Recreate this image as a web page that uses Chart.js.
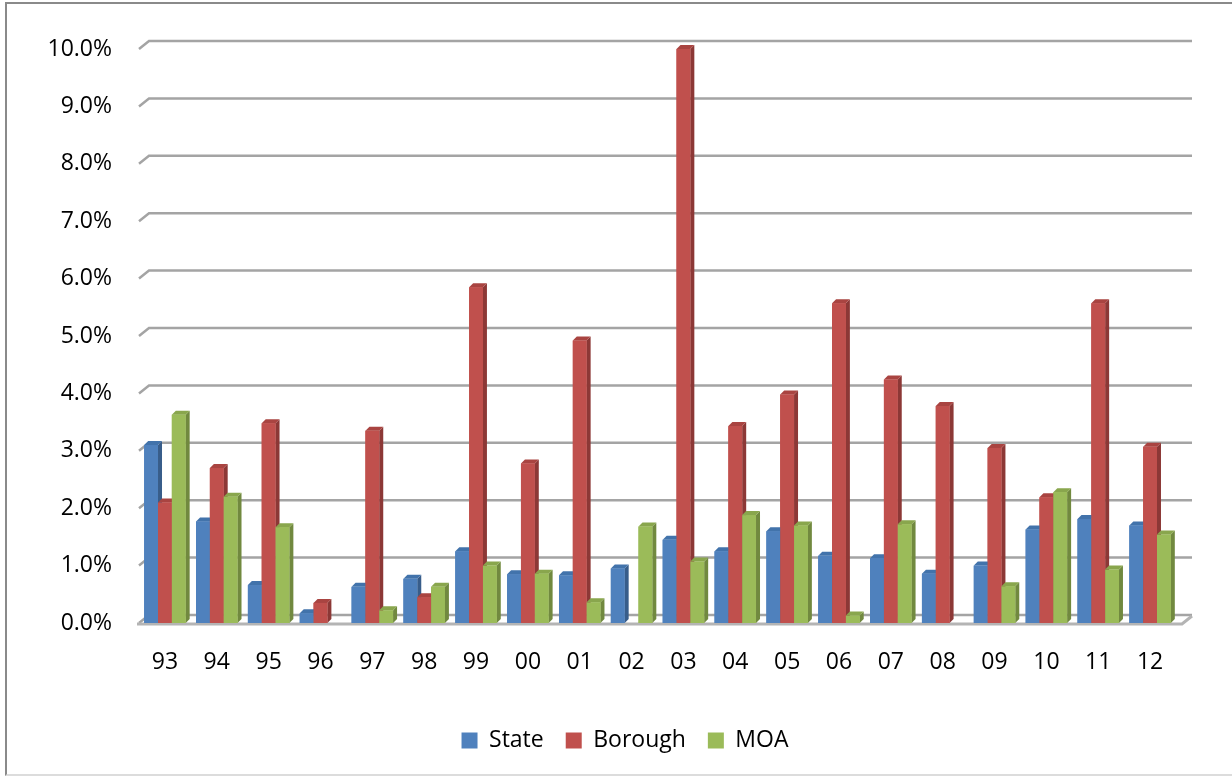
<!DOCTYPE html>
<html>
<head>
<meta charset="utf-8">
<script src="https://cdn.jsdelivr.net/npm/chart.js@4/dist/chart.umd.min.js"></script>
<style>
  html, body { margin: 0; padding: 0; background: #ffffff; }
  #wrap { position: relative; width: 1232px; height: 776px; overflow: hidden; }
  #frame {
    position: absolute; left: 5px; top: 2px; width: 1240px; height: 770px;
    border-left: 2px solid #8a8a8a; border-top: 2px solid #8a8a8a;
    border-bottom: 2px solid #dcdcdc;
  }
  #c { position: absolute; left: 0; top: 0; }
</style>
</head>
<body>
<div id="wrap">
  <div id="frame"></div>
  <canvas id="c" width="1232" height="776"></canvas>
</div>
<script>
// Annual change by year, in percent
const years = ['93','94','95','96','97','98','99','00','01','02','03','04','05','06','07','08','09','10','11','12'];
const stateValues   = [3.10, 1.77, 0.66, 0.17, 0.63, 0.77, 1.25, 0.85, 0.83, 0.95, 1.45, 1.25, 1.60, 1.17, 1.13, 0.86, 1.00, 1.63, 1.81, 1.70];
const boroughValues = [2.10, 2.70, 3.48, 0.35, 3.35, 0.45, 5.85, 2.78, 4.92, null, 10.0, 3.43, 3.98, 5.57, 4.24, 3.78, 3.05, 2.19, 5.57, 3.07];
const moaValues     = [3.63, 2.20, 1.67, null, 0.22, 0.63, 1.00, 0.86, 0.36, 1.68, 1.07, 1.88, 1.70, 0.13, 1.72, null, 0.64, 2.28, 0.93, 1.54];
const yTicks = [0, 1, 2, 3, 4, 5, 6, 7, 8, 9, 10];

const FONT = '"Open Sans", Lato, sans-serif';
const palette = {
  State:   { front: '#4f81bd', side: '#385d8a', top: '#4273ab' },
  Borough: { front: '#c0504d', side: '#8c3836', top: '#a94441' },
  MOA:     { front: '#9bbb59', side: '#71893f', top: '#89a64d' }
};

// Depth of the extruded bars and of the back wall
const DX = 4, DY = 4;
const WALL_DX = 10, WALL_DY = 8;

const bars3d = {
  id: 'bars3d',
  beforeDatasetsDraw(chart) {
    const ctx = chart.ctx;
    const y = chart.scales.y;
    const { left, right } = chart.chartArea;
    ctx.save();
    ctx.lineCap = 'butt';
    // back-wall gridlines with their short diagonal on the side wall
    yTicks.forEach(v => {
      const py = y.getPixelForValue(v);
      ctx.strokeStyle = '#a4a4a4';
      ctx.lineWidth = 2.5;
      ctx.beginPath();
      ctx.moveTo(left, py);
      ctx.lineTo(left + WALL_DX, py - WALL_DY);
      ctx.lineTo(right + WALL_DX + 6, py - WALL_DY);
      ctx.stroke();
    });
    // floor front edge
    const y0 = y.getPixelForValue(0);
    ctx.strokeStyle = '#b4b4b4';
    ctx.lineWidth = 3;
    ctx.beginPath();
    ctx.moveTo(left - 2, y0 + 1);
    ctx.lineTo(right + 6, y0 + 1);
    ctx.lineTo(right + WALL_DX + 6, y0 - WALL_DY + 1);
    ctx.stroke();
    ctx.restore();
  },
  afterDatasetsDraw(chart) {
    const ctx = chart.ctx;
    ctx.save();
    chart.data.datasets.forEach((ds, i) => {
      const meta = chart.getDatasetMeta(i);
      if (meta.hidden) return;
      const col = palette[ds.label];
      meta.data.forEach((el, j) => {
        if (ds.data[j] == null) return;
        const p = el.getProps(['x', 'y', 'base', 'width'], true);
        const l = p.x - p.width / 2, r = p.x + p.width / 2;
        const top = Math.min(p.y, p.base), bot = Math.max(p.y, p.base);
        // right side face
        ctx.fillStyle = col.side;
        ctx.beginPath();
        ctx.moveTo(r, top);
        ctx.lineTo(r + DX, top - DY);
        ctx.lineTo(r + DX, bot - DY);
        ctx.lineTo(r, bot);
        ctx.closePath();
        ctx.fill();
        // top face
        ctx.fillStyle = col.top;
        ctx.beginPath();
        ctx.moveTo(l, top);
        ctx.lineTo(l + DX, top - DY);
        ctx.lineTo(r + DX, top - DY);
        ctx.lineTo(r, top);
        ctx.closePath();
        ctx.fill();
        // front face
        ctx.fillStyle = col.front;
        ctx.fillRect(l, top, p.width, bot - top);
      });
    });
    ctx.restore();
  }
};

new Chart(document.getElementById('c'), {
  type: 'bar',
  data: {
    labels: years,
    datasets: [
      { label: 'State',   data: stateValues,   backgroundColor: palette.State.front },
      { label: 'Borough', data: boroughValues, backgroundColor: palette.Borough.front },
      { label: 'MOA',     data: moaValues,     backgroundColor: palette.MOA.front }
    ]
  },
  options: {
    responsive: false,
    animation: false,
    devicePixelRatio: 1,
    layout: { padding: { top: 49, right: 0, bottom: 14, left: 18 } },
    datasets: { bar: { categoryPercentage: 0.8, barPercentage: 1.0 } },
    scales: {
      x: {
        grid: { display: false, drawTicks: false },
        border: { display: false },
        ticks: { color: '#000', padding: 26, font: { family: FONT, size: 23 }, maxRotation: 0 },
        afterFit(scale) { scale.height = 84; }
      },
      y: {
        min: 0, max: 10,
        afterBuildTicks(scale) { scale.ticks = yTicks.map(v => ({ value: v })); },
        grid: { display: false, drawTicks: false },
        border: { display: false },
        ticks: {
          color: '#000', padding: 27, font: { family: FONT, size: 23 },
          callback: v => v.toFixed(1) + '%'
        },
        afterFit(scale) { scale.width = 121; }
      },
      // empty right-hand margin for the side wall of the floor
      margin: {
        position: 'right', min: 0, max: 10,
        grid: { display: false, drawTicks: false },
        border: { display: false },
        ticks: { display: false },
        afterFit(scale) { scale.width = 56; }
      }
    },
    plugins: {
      legend: {
        position: 'bottom',
        labels: {
          color: '#000', boxWidth: 16, boxHeight: 16, padding: 22,
          font: { family: FONT, size: 23 }
        }
      },
      tooltip: { enabled: false }
    }
  },
  plugins: [bars3d]
});
</script>
</body>
</html>
